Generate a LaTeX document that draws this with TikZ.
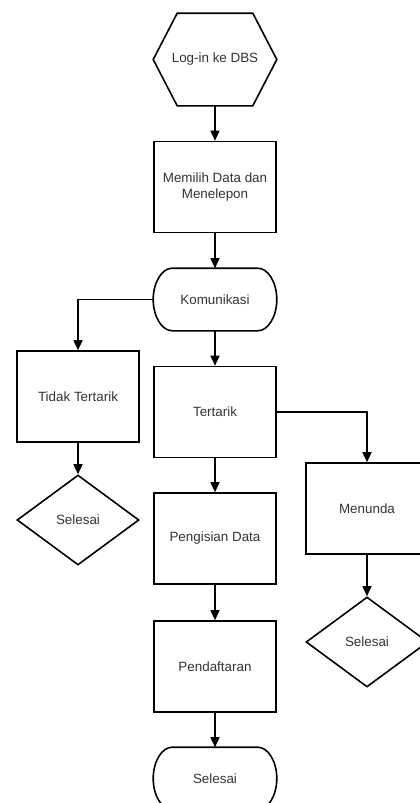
\documentclass[tikz,border=0pt]{standalone}
\usepackage{fontspec}
\setmainfont{Liberation Sans}
\usetikzlibrary{arrows.meta,shapes.geometric}
\definecolor{darktext}{HTML}{333333}

\begin{document}
\begin{tikzpicture}[x=1pt,y=-1pt,
  process/.style={rectangle,draw,line width=1.6pt,minimum width=122pt,minimum height=91pt,inner sep=2pt,text=darktext,align=center,font=\fontsize{13.4}{16}\selectfont},
  terminal/.style={process,draw=none,minimum height=61pt},
  decision/.style={diamond,draw,line width=1.6pt,minimum width=122pt,minimum height=90pt,aspect=1.36,inner sep=0pt,text=darktext,font=\fontsize{13.4}{16}\selectfont},
  hexa/.style={process,draw=none},
  outline/.style={line width=1.6pt,line join=miter},
  edge/.style={line width=1.6pt,-{Triangle[length=10pt,width=9pt]}}]
\useasboundingbox (0,0) rectangle (420,803);

\node(login)[hexa] at (215,59.5){Log-in ke DBS};
\node(pilih)[process] at (215,187){Memilih Data dan\\Menelepon};
\node(komunikasi)[terminal] at (215,299.5){Komunikasi};
\node(tidak)[process] at (78,396.5){Tidak Tertarik};
\node(tertarik)[process] at (215,412){Tertarik};
\node(menunda)[process] at (367,508.5){Menunda};
\node(selesaiA)[decision] at (78,520){Selesai};
\node(pengisian)[process] at (215,538.5){Pengisian Data};
\node(selesaiB)[decision] at (367,642){Selesai};
\node(daftar)[process] at (215,666.5){Pendaftaran};
\node(selesaiC)[terminal] at (215,778.5){Selesai};

% outlines of the hexagon and the two terminals
\draw [outline] (login.west) -- ([xshift=24pt]login.north west) -- ([xshift=-24pt]login.north east) -- (login.east) -- ([xshift=-24pt]login.south east) -- ([xshift=24pt]login.south west) -- cycle;
\foreach \t in {komunikasi,selesaiC}
  \draw [outline] ([xshift=19pt]\t.north west) -- ([xshift=-19pt]\t.north east)
    .. controls ([xshift=-8.5pt]\t.north east) and ([yshift=16.8pt]\t.east) .. (\t.east)
    .. controls ([yshift=-16.8pt]\t.east) and ([xshift=-8.5pt]\t.south east) .. ([xshift=-19pt]\t.south east)
    -- ([xshift=19pt]\t.south west)
    .. controls ([xshift=8.5pt]\t.south west) and ([yshift=-16.8pt]\t.west) .. (\t.west)
    .. controls ([yshift=16.8pt]\t.west) and ([xshift=8.5pt]\t.north west) .. ([xshift=19pt]\t.north west) -- cycle;

\draw [edge] (login) to (pilih);
\draw [edge] (pilih) to (komunikasi);
\draw [edge] (komunikasi.west) -| (tidak.north);
\draw [edge] (komunikasi) to (tertarik);
\draw [edge] (tidak) to (selesaiA);
\draw [edge] (tertarik.east) -| (menunda.north);
\draw [edge] (tertarik) to (pengisian);
\draw [edge] (menunda) to (selesaiB);
\draw [edge] (pengisian) to (daftar);
\draw [edge] (daftar) to (selesaiC);
\end{tikzpicture}
\end{document}
